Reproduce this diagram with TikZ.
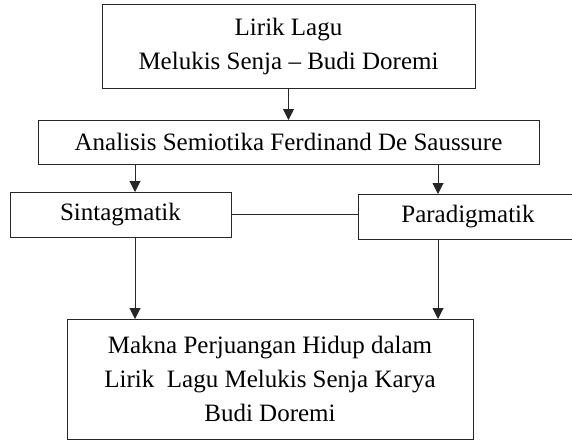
\documentclass[tikz,border=0pt]{standalone}
\usepackage{fontspec}
\setmainfont{Liberation Serif}
\usetikzlibrary{arrows.meta}

\begin{document}
\begin{tikzpicture}[x=1pt,y=-1pt, line width=1pt,
  kotak/.style={draw=black!85,rectangle,inner sep=0pt,outer sep=0pt,align=center,font=\fontsize{25}{34}\selectfont},
  panah/.style={draw=black!85,-{Triangle[width=11pt,length=11pt]}}]
\useasboundingbox (0,0) rectangle (572,440);
\node[kotak,minimum width=373pt,minimum height=84pt] (lirik) at (288.5,46) {Lirik Lagu\\Melukis Senja -- Budi Doremi};
\node[kotak,minimum width=501pt,minimum height=44pt] (analisis) at (288.5,142) {Analisis Semiotika Ferdinand De Saussure};
\draw[panah] (lirik.south) -- (analisis.north);

\node[kotak,minimum width=221pt,minimum height=45pt] (sintag) at (120.5,214.5) {Sintagmatik};
\node[kotak,minimum width=220pt,minimum height=45pt] (paradig) at (468,216.5) {Paradigmatik};
\coordinate (kiri) at (135,0);
\coordinate (kanan) at (438,0);
\draw[panah] (analisis.south -| kiri) -- (sintag.north -| kiri);
\draw[panah] (analisis.south -| kanan) -- (paradig.north -| kanan);
\draw[draw=black!85] (sintag.east) -- (sintag.east -| paradig.west);

\node[kotak,minimum width=406pt,minimum height=120pt] (makna) at (270,379) {Makna Perjuangan Hidup dalam\\Lirik~ Lagu Melukis Senja Karya\\Budi Doremi};
\draw[panah] (sintag.south -| kiri) -- (makna.north -| kiri);
\draw[panah] (paradig.south -| kanan) -- (makna.north -| kanan);
\end{tikzpicture}
\end{document}
